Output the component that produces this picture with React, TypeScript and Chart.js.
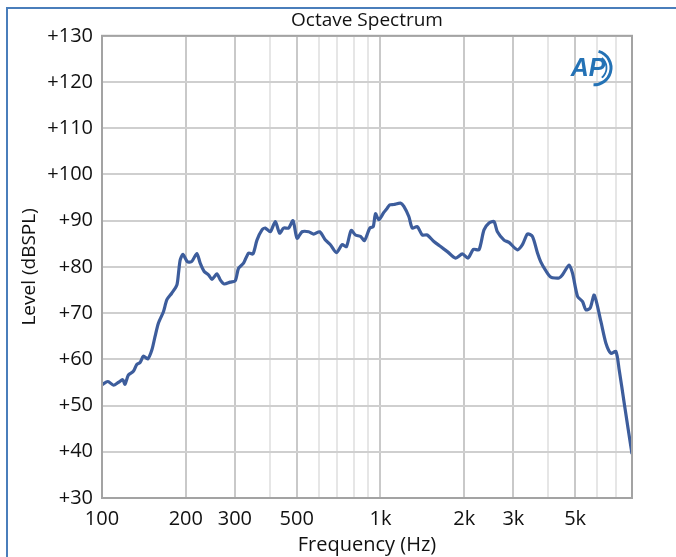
import React, { useEffect, useRef } from "react";
import { Chart, registerables } from "chart.js";

Chart.register(...registerables);

const chartTitle = "Octave Spectrum";
const xAxisTitle = "Frequency (Hz)";
const yAxisTitle = "Level (dBSPL)";

const freqs = [
  100, 105, 110, 114.5, 118.7, 121, 124.3, 129.6, 133.3, 137, 140.8, 146, 151, 155, 159.4, 166.2, 171, 178,
  185.7, 188.2, 190.9, 195.2, 202.7, 210.2, 219.1, 225.2, 232.8, 241.2, 248.1, 258.6, 265.8, 274.7, 288.7,
  300.9, 309.2, 322.3, 336, 348.4, 360.1, 375.4, 385.8, 402.1, 419.1, 434.3, 448.9, 467.9, 485.3, 501.6,
  522.8, 552.2, 575.6, 604.9, 634.2, 660.9, 694.6, 728.2, 754.6, 784.6, 813.1, 847.5, 876, 915.3, 941.4,
  959.6, 986, 1028, 1057, 1080, 1116, 1180, 1213, 1264, 1300, 1355, 1413, 1472, 1555, 1644, 1738, 1862,
  1968, 2061, 2156, 2258, 2353, 2453, 2556, 2629, 2777, 2894, 3102, 3233, 3371, 3513, 3662, 3763, 3922,
  4088, 4379, 4504, 4757, 4894, 5101, 5316, 5464, 5662, 5853, 6185, 6448, 6720, 7004, 7197, 7502, 8000,
];

const levels = [
  54.5, 55.2, 54.4, 55.0, 55.6, 54.6, 56.6, 57.4, 58.9, 59.3, 60.7, 60.1, 62.0, 64.9, 67.8, 70.3, 72.9, 74.3,
  76.1, 78.6, 81.5, 82.7, 81.1, 81.2, 82.9, 80.8, 79.0, 78.3, 77.3, 78.5, 77.2, 76.3, 76.7,
  77.0, 79.7, 80.8, 83.0, 82.8, 85.8, 88.0, 88.4, 87.6, 89.8, 87.3, 88.4, 88.4, 90.0, 86.2,
  87.6, 87.6, 87.1, 87.6, 85.8, 84.8, 83.1, 84.8, 84.4, 87.9, 86.9, 86.6, 85.7, 88.4, 88.7,
  91.5, 90.2, 91.8, 92.7, 93.4, 93.5, 93.8, 93.1, 90.9, 88.4, 88.7, 86.9, 86.9, 85.5, 84.4, 83.3, 81.9,
  82.8, 81.9, 83.8, 83.7, 88.0, 89.5, 89.8, 87.6, 85.8, 85.3, 83.7, 84.8, 87.1, 86.6, 83.0, 81.1, 79.2,
  77.8, 77.6, 78.3, 80.4, 78.6, 73.6, 72.5, 70.7, 71.1, 73.9, 68.2, 63.5, 61.3, 61.7, 57.7, 50.5, 39.5,
];

const xTickValues = [100, 200, 300, 400, 500, 600, 700, 800, 900, 1000, 2000, 3000, 4000, 5000, 6000, 7000, 8000];
const xTickLabels = ["100", "200", "300", "", "500", "", "", "", "", "1k", "2k", "3k", "", "5k", "", "", ""];
const yMin = 30;
const yMax = 130;
const yStep = 5;
const yLabelStep = 10;

const FONT = "'Open Sans', 'Noto Sans', sans-serif";

export default function App() {
  const ref = useRef<HTMLCanvasElement | null>(null);

  useEffect(() => {
    document.body.style.margin = "0";
    const canvas = ref.current;
    if (!canvas) return;

    const framePlugin = {
      id: "framePlugin",
      afterDraw(chart: any) {
        const { ctx, chartArea } = chart;
        ctx.save();
        // outer blue frame (top and left)
        ctx.strokeStyle = "#4a7ebb";
        ctx.lineWidth = 2;
        ctx.beginPath();
        ctx.moveTo(7, 557);
        ctx.lineTo(7, 8);
        ctx.lineTo(676, 8);
        ctx.stroke();
        // plot border
        ctx.strokeStyle = "#a3a3a3";
        ctx.lineWidth = 2;
        ctx.strokeRect(chartArea.left, chartArea.top, chartArea.right - chartArea.left, chartArea.bottom - chartArea.top);
        // AP logo
        const cx = chartArea.right - 40;
        const cy = chartArea.top + 32;
        ctx.fillStyle = "#2472b5";
        ctx.strokeStyle = "#2472b5";
        ctx.font = "italic bold 25px 'Liberation Sans', sans-serif";
        ctx.textAlign = "center";
        ctx.textBaseline = "middle";
        ctx.fillText("AP", cx - 4, cy + 1);
        ctx.lineWidth = 3;
        ctx.beginPath();
        ctx.arc(cx + 2, cy, 17, -1.3, 1.6);
        ctx.stroke();
        ctx.lineWidth = 1.8;
        ctx.beginPath();
        ctx.arc(cx + 2, cy, 12.5, -0.9, 0.9);
        ctx.stroke();
        ctx.restore();
      },
    };

    const chart = new Chart(canvas, {
      type: "line",
      data: {
        datasets: [
          {
            data: freqs.map((f, i) => ({ x: f, y: levels[i] })),
            borderColor: "#3d5d9c",
            borderWidth: 3.2,
            pointRadius: 0,
            tension: 0.25,
            fill: false,
          },
        ],
      },
      options: {
        animation: false,
        responsive: false,
        devicePixelRatio: 1,
        layout: { padding: { left: 0, right: 44, top: 0, bottom: 0 } },
        plugins: {
          legend: { display: false },
          tooltip: { enabled: false },
          title: {
            display: true,
            text: chartTitle,
            fullSize: false,
            color: "#111",
            font: { family: FONT, size: 19, weight: "normal" },
            padding: { top: 9, bottom: 4 },
          },
        },
        scales: {
          x: {
            type: "logarithmic",
            min: 100,
            max: 8000,
            afterBuildTicks(scale: any) {
              scale.ticks = xTickValues.map((v) => ({ value: v }));
            },
            afterFit(scale: any) {
              scale.height = 59;
            },
            ticks: {
              autoSkip: false,
              maxRotation: 0,
              padding: 9,
              color: "#111",
              font: { family: FONT, size: 20 },
              callback(value: any) {
                const i = xTickValues.indexOf(Number(value));
                return i >= 0 ? xTickLabels[i] : "";
              },
            },
            grid: {
              drawTicks: false,
              color(ctx: any) {
                const v = ctx.tick ? ctx.tick.value : 0;
                const i = xTickValues.indexOf(v);
                return i >= 0 && xTickLabels[i] !== "" ? "#c9c9c9" : "#e6e6e6";
              },
              lineWidth: 2,
            },
            border: { display: false },
            title: {
              display: true,
              text: xAxisTitle,
              color: "#111",
              font: { family: FONT, size: 20 },
              padding: { top: 0, bottom: 0 },
            },
          },
          y: {
            min: yMin,
            max: yMax,
            afterFit(scale: any) {
              scale.width = 102;
            },
            ticks: {
              stepSize: yStep,
              padding: 9,
              color: "#111",
              font: { family: FONT, size: 20 },
              callback(value: any) {
                const v = Number(value);
                return v % yLabelStep === 0 ? "+" + v : "";
              },
            },
            grid: {
              drawTicks: false,
              color(ctx: any) {
                const v = ctx.tick ? ctx.tick.value : 0;
                return v % yLabelStep === 0 ? "#cfcfcf" : "#e8e8e8";
              },
              lineWidth: 2,
            },
            border: { display: false },
            title: {
              display: true,
              text: yAxisTitle,
              color: "#111",
              font: { family: FONT, size: 19 },
              padding: { top: 18, bottom: 0 },
            },
          },
        },
      },
      plugins: [framePlugin],
    } as any);

    return () => chart.destroy();
  }, []);

  return (
    <div style={{ position: "absolute", left: 0, top: 0, width: 676, height: 557, background: "#fff" }}>
      <canvas ref={ref} width={676} height={557} style={{ display: "block" }} />
    </div>
  );
}
